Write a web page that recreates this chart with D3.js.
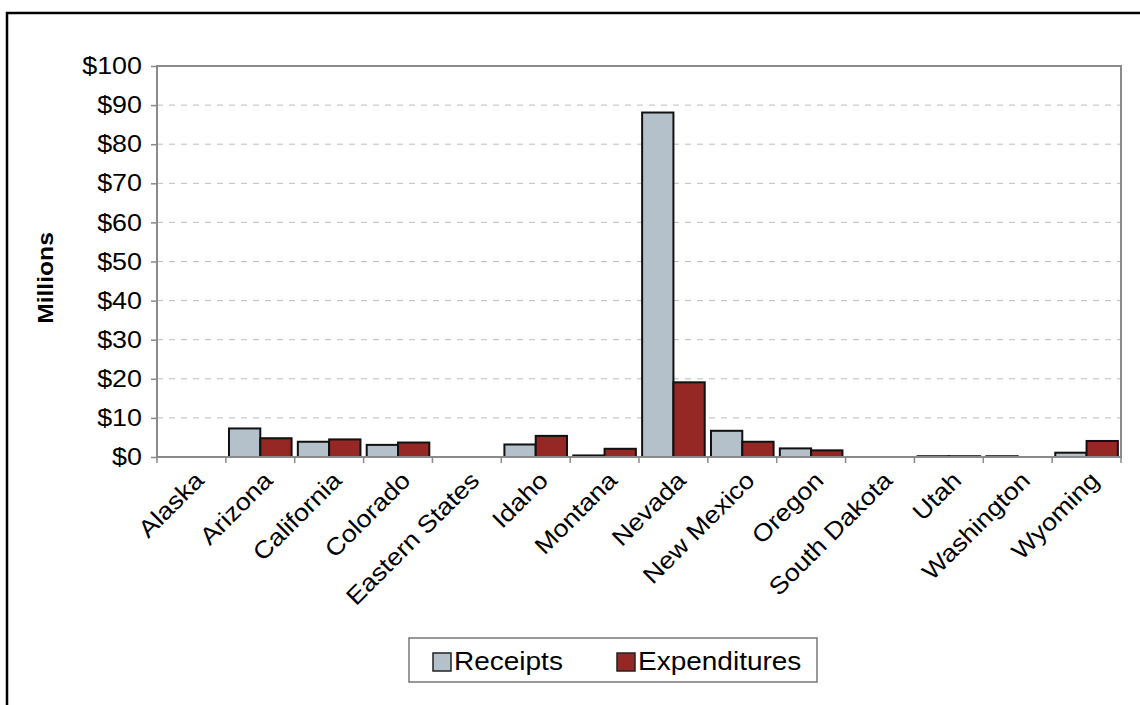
<!DOCTYPE html>
<html>
<head>
<meta charset="utf-8">
<script src="https://cdn.jsdelivr.net/npm/d3@7"></script>
<style>
  body { margin: 0; background: #fff; }
  svg { display: block; font-family: "Liberation Sans", Arial, sans-serif; }
</style>
</head>
<body>
<div id="chart"></div>
<script>
// Data (millions of dollars)
const states = ["Alaska", "Arizona", "California", "Colorado", "Eastern States", "Idaho", "Montana",
  "Nevada", "New Mexico", "Oregon", "South Dakota", "Utah", "Washington", "Wyoming"];
const receipts = [0, 7.3, 3.9, 3.1, 0, 3.2, 0.4, 88.1, 6.7, 2.2, 0, 0.2, 0.2, 1.1];
const expenditures = [0, 4.8, 4.5, 3.7, 0, 5.4, 2.1, 19.1, 3.9, 1.7, 0, 0.2, 0, 4.1];
const seriesNames = ["Receipts", "Expenditures"];
const seriesColors = ["#b4c1ca", "#952825"];
const yTicks = [0, 10, 20, 30, 40, 50, 60, 70, 80, 90, 100];

const width = 1140, height = 705;
const plot = { left: 157, top: 66, right: 1121, bottom: 457 };
const stretch = 1.12; // text in the original is a bit wide

const svg = d3.select("#chart").append("svg")
  .attr("width", width)
  .attr("height", height);

// outer frame (cropped on right and bottom)
svg.append("rect")
  .attr("x", 7).attr("y", 13)
  .attr("width", 1150).attr("height", 720)
  .attr("fill", "none")
  .attr("stroke", "#000")
  .attr("stroke-width", 2.5);

const x = d3.scaleBand()
  .domain(states)
  .range([plot.left, plot.right]);

const xInner = d3.scaleBand()
  .domain(seriesNames)
  .range([0, x.bandwidth()])
  .paddingOuter(0.1);

const y = d3.scaleLinear()
  .domain([0, 100])
  .range([plot.bottom, plot.top]);

// gridlines
svg.append("g")
  .selectAll("line")
  .data(yTicks.filter(d => d > 0 && d < 100))
  .join("line")
  .attr("x1", plot.left).attr("x2", plot.right)
  .attr("y1", d => y(d)).attr("y2", d => y(d))
  .attr("stroke", "#bdbdbd")
  .attr("stroke-width", 1)
  .attr("stroke-dasharray", "6,6");

// bars
const rows = states.map((s, i) => ({ state: s, values: [receipts[i], expenditures[i]] }));
svg.append("g")
  .selectAll("g")
  .data(rows)
  .join("g")
  .attr("transform", d => `translate(${x(d.state)},0)`)
  .selectAll("rect")
  .data(d => d.values.map((v, j) => ({ key: seriesNames[j], value: v, color: seriesColors[j] })).filter(d => d.value > 0))
  .join("rect")
  .attr("x", d => xInner(d.key))
  .attr("width", xInner.bandwidth())
  .attr("y", d => y(d.value))
  .attr("height", d => y(0) - y(d.value))
  .attr("fill", d => d.color)
  .attr("stroke", "#111")
  .attr("stroke-width", 2);

// plot border
svg.append("rect")
  .attr("x", plot.left).attr("y", plot.top)
  .attr("width", plot.right - plot.left)
  .attr("height", plot.bottom - plot.top)
  .attr("fill", "none")
  .attr("stroke", "#8a8a8a")
  .attr("stroke-width", 2);

// y axis
const yAxis = svg.append("g")
  .attr("transform", `translate(${plot.left},0)`)
  .call(d3.axisLeft(y).tickValues(yTicks).tickFormat(d => "$" + d).tickSize(6).tickPadding(0));
yAxis.select(".domain").remove();
yAxis.selectAll(".tick line").attr("stroke", "#8a8a8a").attr("stroke-width", 1.5);
yAxis.selectAll("text")
  .attr("x", null)
  .attr("transform", `translate(-15,0) scale(${stretch},1)`)
  .attr("font-size", 24)
  .attr("fill", "#000");

// x axis ticks at band boundaries
const boundaries = states.map(s => x(s)).concat([plot.right]);
svg.append("g")
  .selectAll("line")
  .data(boundaries)
  .join("line")
  .attr("x1", d => d).attr("x2", d => d)
  .attr("y1", plot.bottom).attr("y2", plot.bottom + 6)
  .attr("stroke", "#8a8a8a")
  .attr("stroke-width", 1.5);

// x labels
svg.append("g")
  .selectAll("text")
  .data(states)
  .join("text")
  .attr("transform", d => `translate(${x(d) + x.bandwidth() / 2 + 2},${plot.bottom + 13}) rotate(-45) scale(${stretch},1)`)
  .attr("text-anchor", "end")
  .attr("dy", "0.7em")
  .attr("font-size", 24)
  .attr("fill", "#000")
  .text(d => d);

// y axis title
svg.append("text")
  .attr("transform", `translate(53,278) rotate(-90) scale(${stretch},1)`)
  .attr("text-anchor", "middle")
  .attr("font-size", 22)
  .attr("font-weight", "bold")
  .text("Millions");

// legend
const legend = svg.append("g");
legend.append("rect")
  .attr("x", 409).attr("y", 638)
  .attr("width", 408).attr("height", 44)
  .attr("fill", "#fff")
  .attr("stroke", "#777")
  .attr("stroke-width", 1.5);

const legendX = [433, 617];
seriesNames.forEach((name, i) => {
  legend.append("rect")
    .attr("x", legendX[i]).attr("y", 653)
    .attr("width", 18).attr("height", 18)
    .attr("fill", seriesColors[i])
    .attr("stroke", "#222")
    .attr("stroke-width", 1.5);
  legend.append("text")
    .attr("transform", `translate(${legendX[i] + 21},670) scale(${stretch},1)`)
    .attr("font-size", 25)
    .text(name);
});
</script>
</body>
</html>
